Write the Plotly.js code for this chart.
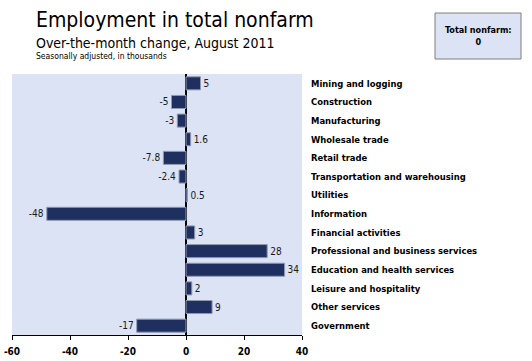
<!DOCTYPE html>
<html>
<head>
<meta charset="utf-8">
<script src="https://cdn.plot.ly/plotly-3.0.1.min.js"></script>
<style>html,body{margin:0;padding:0;background:#fff;}#chart{width:532px;height:361px;}</style>
</head>
<body>
<div id="chart"></div>
<script>
const categories = ["Mining and logging","Construction","Manufacturing","Wholesale trade","Retail trade","Transportation and warehousing","Utilities","Information","Financial activities","Professional and business services","Education and health services","Leisure and hospitality","Other services","Government"];
const changes = [5, -5, -3, 1.6, -7.8, -2.4, 0.5, -48, 3, 28, 34, 2, 9, -17];
const valueLabels = ["5","-5","-3","1.6","-7.8","-2.4","0.5","-48","3","28","34","2","9","-17"];
const xTicks = [-60, -40, -20, 0, 20, 40];
const totalNonfarm = 0;

const FONT = "'DejaVu Sans Condensed', 'DejaVu Sans', sans-serif";

const trace = {
  type: 'bar',
  orientation: 'h',
  y: categories,
  x: changes,
  text: valueLabels,
  textposition: 'outside',
  cliponaxis: false,
  textfont: {family: FONT, size: 10, color: '#1a1a1a'},
  marker: {color: '#1f3060', line: {color: '#8f9ab0', width: 1}},
  hoverinfo: 'none'
};

const layout = {
  width: 532, height: 361,
  margin: {l: 12, r: 230, t: 74, b: 26},
  paper_bgcolor: '#ffffff',
  plot_bgcolor: '#dbe3f4',
  showlegend: false,
  bargap: 0.3,
  font: {family: FONT, color: '#000'},
  xaxis: {
    range: [-60, 40], tickvals: xTicks, ticktext: xTicks.map(String),
    ticks: 'outside', ticklen: 4, tickcolor: '#000', tickwidth: 1,
    ticklabelstandoff: 3,
    showline: true, linecolor: '#000', linewidth: 1,
    showgrid: false, zeroline: true, zerolinecolor: '#000', zerolinewidth: 1.5,
    tickfont: {family: FONT, size: 10, color: '#000', weight: 'bold'},
    fixedrange: true
  },
  yaxis: {
    categoryorder: 'array', categoryarray: categories, autorange: 'reversed',
    side: 'right', showgrid: false, showline: false, zeroline: false,
    ticks: '', ticklabelstandoff: 8,
    tickfont: {family: FONT, size: 9.4, color: '#000', weight: 'bold'},
    fixedrange: true
  },
  shapes: [{
    type: 'rect', xref: 'paper', yref: 'paper',
    x0: (435-12)/290, x1: (521-12)/290, y0: (335-59)/261, y1: (335-13)/261,
    fillcolor: '#dbe3f4', line: {color: '#7f7f7f', width: 1}
  }],
  annotations: [
    {xref: 'paper', yref: 'paper', x: (34-12)/290, y: (335-20)/261, xanchor: 'left', yanchor: 'middle',
     text: 'Employment in total nonfarm', showarrow: false, font: {family: FONT, size: 21, color: '#000'}},
    {xref: 'paper', yref: 'paper', x: (34-12)/290, y: (335-43)/261, xanchor: 'left', yanchor: 'middle',
     text: 'Over-the-month change, August 2011', showarrow: false, font: {family: FONT, size: 14, color: '#000'}},
    {xref: 'paper', yref: 'paper', x: (34-12)/290, y: (335-56)/261, xanchor: 'left', yanchor: 'middle',
     text: 'Seasonally adjusted, in thousands', showarrow: false, font: {family: FONT, size: 8.5, color: '#000'}},
    {xref: 'paper', yref: 'paper', x: (478-12)/290, y: (335-36)/261, xanchor: 'center', yanchor: 'middle',
     text: 'Total nonfarm:<br>' + totalNonfarm, showarrow: false, align: 'center',
     font: {family: FONT, size: 9, color: '#000', weight: 'bold'}}
  ]
};

Plotly.newPlot('chart', [trace], layout, {displayModeBar: false, staticPlot: true});
</script>
</body>
</html>
